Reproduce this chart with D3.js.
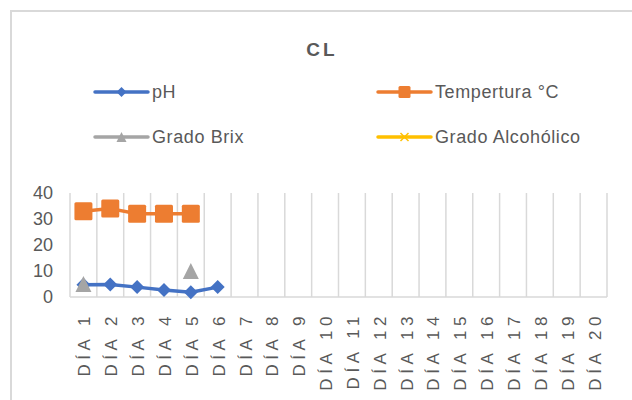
<!DOCTYPE html>
<html>
<head>
<meta charset="utf-8">
<script src="https://cdn.jsdelivr.net/npm/d3@7"></script>
<style>
  body { margin: 0; background: #fff; }
  svg { display: block; font-family: "Liberation Sans", Arial, sans-serif; }
</style>
</head>
<body>
<svg id="chart" width="632" height="400"></svg>
<script>
const title = "CL";
const categories = ["DÍA 1","DÍA 2","DÍA 3","DÍA 4","DÍA 5","DÍA 6","DÍA 7","DÍA 8","DÍA 9","DÍA 10",
  "DÍA 11","DÍA 12","DÍA 13","DÍA 14","DÍA 15","DÍA 16","DÍA 17","DÍA 18","DÍA 19","DÍA 20"];
const seriesNames = ["pH", "Tempertura °C", "Grado Brix", "Grado Alcohólico"];
const phValues = [4.7, 4.8, 3.8, 2.7, 1.8, 3.8];
const tempValues = [33, 34, 32, 32, 32];
const brixValues = [5, null, null, null, 10];
const alcoholValues = [];
const yTicks = [0, 10, 20, 30, 40];

const colors = ["#4472c4", "#ed7d31", "#a5a5a5", "#ffc000"];
const svg = d3.select("#chart");
const grid = "#d9d9d9", textCol = "#595959";

// chart border
svg.append("rect").attr("x", 11).attr("y", 11).attr("width", 700).attr("height", 500)
  .attr("fill", "#fff").attr("stroke", grid).attr("stroke-width", 2);

// title
svg.append("text").attr("x", 322).attr("y", 56).attr("text-anchor", "middle")
  .attr("font-size", 19).attr("font-weight", "bold").attr("letter-spacing", 3)
  .attr("fill", textCol).text(title);

const plot = { left: 70, right: 607, top: 193, bottom: 297 };
const x = d3.scaleBand().domain(categories).range([plot.left, plot.right]);
const y = d3.scaleLinear().domain([0, 40]).range([plot.bottom, plot.top]);

// vertical gridlines at category boundaries
const bounds = categories.map(c => x(c)).concat([plot.right]);
svg.append("g").selectAll("line").data(bounds).join("line")
  .attr("x1", d => d).attr("x2", d => d).attr("y1", plot.top).attr("y2", plot.bottom)
  .attr("stroke", grid).attr("stroke-width", 1.5);
// bottom axis line
svg.append("line").attr("x1", plot.left).attr("x2", plot.right)
  .attr("y1", plot.bottom).attr("y2", plot.bottom).attr("stroke", grid).attr("stroke-width", 1.5);

// y axis labels
const yAxis = d3.axisLeft(y).tickValues(yTicks).tickSize(0).tickPadding(0);
const gy = svg.append("g").attr("transform", `translate(53,0)`).call(yAxis);
gy.select(".domain").remove();
gy.selectAll("text").attr("font-size", 18).attr("fill", textCol)
  .attr("font-family", "Liberation Sans, Arial, sans-serif");

// x axis labels
const xAxis = d3.axisBottom(x).tickSize(0).tickPadding(0);
const gx = svg.append("g").attr("transform", `translate(0,${plot.bottom})`).call(xAxis);
gx.select(".domain").remove();
gx.selectAll("text")
  .attr("font-size", 17).attr("fill", textCol).attr("letter-spacing", 4.6)
  .attr("font-family", "Liberation Sans, Arial, sans-serif")
  .attr("text-anchor", "end")
  .attr("dy", null).attr("y", null)
  .attr("transform", "translate(7,15) rotate(-90)");

const cx = i => x(categories[i]) + x.bandwidth() / 2;

function drawSeries(vals, color, markerFn) {
  const pts = vals.map((v, i) => ({ i, v })).filter(d => d.v != null);
  const line = d3.line().defined(d => d.v != null).x(d => cx(d.i)).y(d => y(d.v));
  svg.append("path").datum(vals.map((v, i) => ({ i, v })))
    .attr("d", line).attr("fill", "none").attr("stroke", color)
    .attr("stroke-width", 3.5).attr("stroke-linejoin", "round");
  pts.forEach(d => markerFn(svg, cx(d.i), y(d.v), color));
}

const diamond = (g, px, py, c, s = 7) => g.append("path")
  .attr("d", `M${px},${py - s}L${px + s},${py}L${px},${py + s}L${px - s},${py}Z`).attr("fill", c);
const square = (g, px, py, c, s = 9) => g.append("rect")
  .attr("x", px - s).attr("y", py - s).attr("width", 2 * s).attr("height", 2 * s).attr("rx", 1.5).attr("fill", c);
const triangle = (g, px, py, c, s = 8) => g.append("path")
  .attr("d", `M${px},${py - s}L${px + s},${py + s}L${px - s},${py + s}Z`).attr("fill", c);
const cross = (g, px, py, c, s = 4) => g.append("path")
  .attr("d", `M${px - s},${py - s}L${px + s},${py + s}M${px + s},${py - s}L${px - s},${py + s}`)
  .attr("stroke", c).attr("stroke-width", 1.5).attr("fill", "none");

drawSeries(tempValues, colors[1], square);
drawSeries(phValues, colors[0], diamond);
drawSeries(brixValues, colors[2], triangle);
drawSeries(alcoholValues, colors[3], cross);

// legend
const legendPos = [[95, 92], [378, 92], [95, 137], [378, 137]];
const legendMarkers = [
  (g, px, py, c) => diamond(g, px, py, c, 5),
  (g, px, py, c) => square(g, px, py, c, 6),
  (g, px, py, c) => triangle(g, px, py, c, 5),
  (g, px, py, c) => cross(g, px, py, c, 4)
];
seriesNames.forEach((name, k) => {
  const [lx, ly] = legendPos[k];
  svg.append("line").attr("x1", lx).attr("x2", lx + 53).attr("y1", ly).attr("y2", ly)
    .attr("stroke", colors[k]).attr("stroke-width", 3.5).attr("stroke-linecap", "round");
  legendMarkers[k](svg, lx + 26.5, ly, colors[k]);
  svg.append("text").attr("x", lx + 57).attr("y", ly).attr("dy", "0.35em")
    .attr("font-size", 18).attr("letter-spacing", 0.6).attr("fill", textCol).text(name);
});
</script>
</body>
</html>
